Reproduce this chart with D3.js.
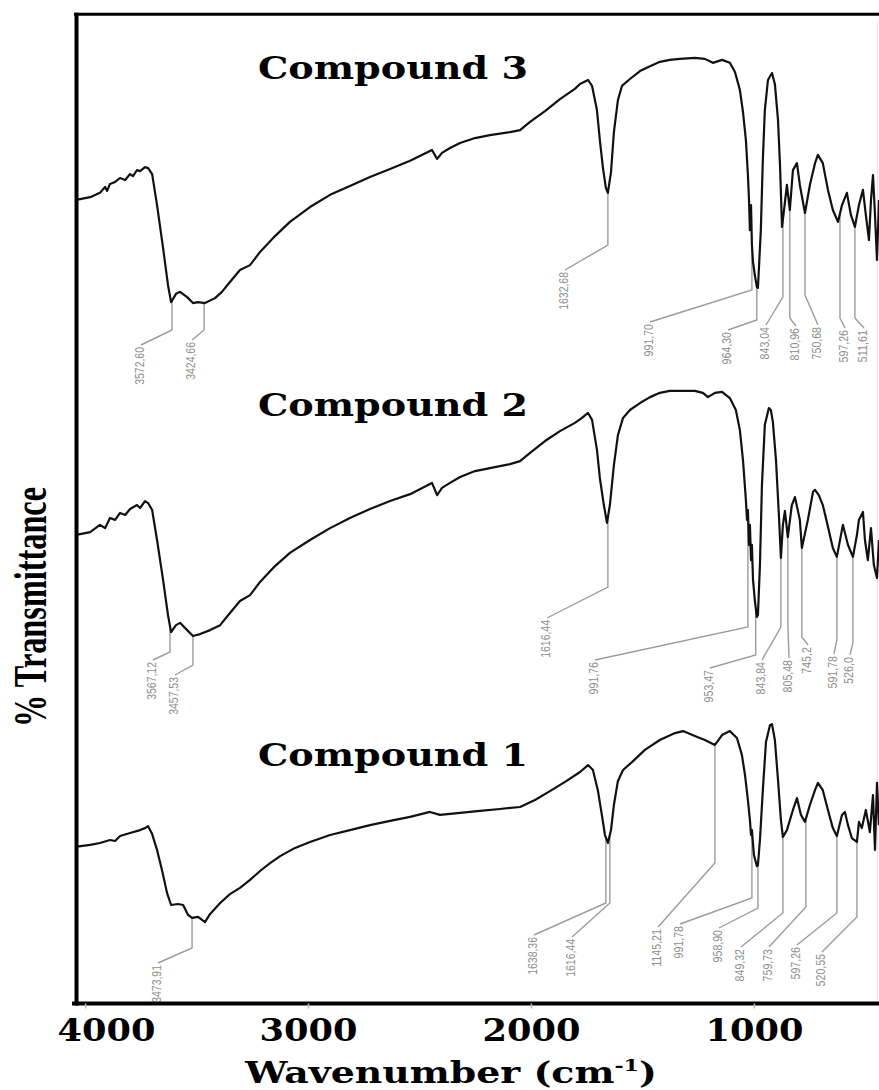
<!DOCTYPE html>
<html><head><meta charset="utf-8">
<script src="https://cdn.jsdelivr.net/npm/d3@7/dist/d3.min.js"></script>
<style>html,body{margin:0;padding:0;background:#fff;}svg{display:block;}</style>
</head><body>
<svg id="chart" width="879" height="1090"></svg>
<script>
// ---------- DATA ----------
const xTicks = [4000, 3000, 2000, 1000];
const compoundNames = ["Compound 3", "Compound 2", "Compound 1"];
const xTitle = "Wavenumber (cm";
const yTitle = "% Transmittance";

// Compound 3 spectrum (wavenumber cm-1, % transmittance within its panel)
const c3Wn = [4045,3977,3933,3910,3901,3888,3865,3843,3820,3798,3785,3767,3753,3731,3717,3699,3677,3650,3628,3614,3592,3574,3542,3516,3493,3462,3417,3386,3350,3305,3260,3215,3148,3081,2991,2901,2812,2722,2632,2542,2453,2444,2421,2399,2363,2318,2251,2184,2094,2049,2004,1937,1870,1803,1780,1744,1726,1704,1691,1677,1664,1655,1641,1628,1610,1592,1556,1511,1466,1422,1377,1332,1265,1220,1184,1143,1108,1085,1063,1049,1036,1027,1022,1018,1013,1009,1004,996,987,982,969,960,951,937,919,906,892,883,874,865,852,839,825,807,794,771,749,726,713,691,668,646,623,605,583,565,547,529,511,498,484,475,466,457,448,439];
const c3T = [43.6,44.5,45.8,47.6,46.4,48.5,49.1,50.3,49.7,51.5,50.9,52.7,52.4,53.6,53.3,51.5,42.1,29.1,17.9,12.7,15.2,15.8,14.2,12.4,12.7,12.4,13.9,15.8,18.8,22.4,23.9,27.9,32.7,37.0,41.5,45.2,47.9,50.6,53.0,55.5,58.5,58.8,56.1,57.9,59.4,60.9,62.4,63.3,64.2,64.8,67.3,70.6,74.2,77.3,78.8,80.0,78.2,70.9,61.8,53.3,47.3,45.8,52.1,64.2,73.9,78.2,80.3,82.7,84.2,85.5,86.1,86.4,86.7,86.4,85.2,86.1,85.2,82.4,77.0,70.3,61.8,51.2,43.6,34.5,42.1,30.0,24.8,20.9,17.3,17.0,34.5,55.8,70.9,80.0,82.1,78.8,67.9,54.2,35.5,40.6,48.2,40.6,52.7,54.8,48.2,39.7,48.2,54.8,57.3,54.8,46.7,40.6,37.0,42.1,45.8,39.1,35.5,42.1,46.7,39.1,31.5,43.6,51.2,39.1,25.5,43.6];
const c3PeakWn = [3610,3466,1655,1009,987,870,839,771,614,547];
const c3PeakLabels = ["3572,60","3424,66","1632,68","991,70","964,30","843,04","810,96","750,68","597,26","511,61"];

// Compound 2 spectrum
const c2Wn = [4045,3977,3933,3910,3888,3865,3843,3820,3798,3767,3753,3731,3717,3699,3677,3650,3628,3614,3592,3574,3542,3516,3484,3439,3394,3350,3305,3260,3215,3148,3081,2991,2901,2812,2722,2632,2542,2453,2444,2421,2399,2363,2318,2251,2184,2094,2049,2004,1937,1870,1803,1771,1744,1726,1704,1691,1673,1659,1646,1628,1610,1587,1556,1511,1466,1422,1377,1332,1265,1229,1206,1175,1143,1108,1081,1063,1049,1036,1031,1027,1022,1018,1013,1009,1004,996,987,982,973,964,951,933,924,915,901,888,879,870,861,848,830,816,794,785,758,735,726,709,691,673,646,628,601,578,556,538,529,511,502,489,475,462,448,439];
const c2T = [42.1,43.0,45.2,44.2,47.3,46.7,48.8,48.2,50.0,51.2,50.3,52.4,51.8,49.7,40.6,28.5,17.9,12.7,14.8,15.5,13.3,11.5,12.1,13.3,14.8,18.5,22.1,23.9,27.9,32.7,36.7,40.6,44.2,47.3,50.0,52.4,54.5,57.6,57.9,54.2,56.4,57.9,59.7,61.5,62.4,63.6,64.5,67.0,70.6,73.6,76.1,77.6,79.1,77.0,67.9,59.4,51.2,45.8,51.2,63.3,72.4,77.6,80.0,82.1,83.9,85.2,85.8,85.8,85.8,85.2,83.9,85.2,85.5,83.6,80.0,73.9,64.8,52.7,46.7,49.7,39.1,45.2,34.5,39.1,28.5,22.4,17.3,17.9,33.0,57.3,75.5,80.6,80.0,76.4,64.8,48.2,35.2,45.2,49.4,41.5,51.2,53.6,46.7,38.2,46.7,55.2,55.8,54.2,51.2,46.1,38.2,35.5,45.2,39.1,35.5,42.1,46.7,49.1,40.6,34.5,44.2,33.0,29.1,40.6];
const c2PeakWn = [3619,3516,1655,1027,992,879,848,785,628,556];
const c2PeakLabels = ["3567,12","3457,53","1616,44","991,76","953,47","843,84","805,48","745,2","591,78","526,0"];

// Compound 1 spectrum
const c1Wn = [4045,3977,3933,3888,3865,3843,3798,3753,3731,3717,3699,3677,3655,3632,3614,3583,3560,3538,3520,3493,3462,3439,3394,3350,3305,3260,3215,3170,3125,3058,2991,2901,2812,2722,2632,2542,2453,2408,2318,2229,2139,2049,1982,1915,1847,1780,1744,1722,1700,1682,1668,1655,1641,1628,1610,1587,1547,1489,1422,1354,1318,1265,1220,1175,1143,1108,1076,1054,1040,1027,1018,1013,1009,1000,987,982,973,960,946,928,919,906,892,879,870,852,825,807,789,771,749,726,713,691,668,646,628,605,592,578,561,538,529,516,498,480,466,457,448,439];
const c1T = [47.6,48.2,48.8,49.7,49.4,50.9,51.8,52.7,53.3,53.9,51.5,46.7,40.6,33.6,30.0,30.3,30.0,27.0,26.1,26.4,24.8,27.3,30.6,33.3,35.2,37.6,40.3,42.7,44.8,47.3,49.1,51.2,52.7,54.2,55.5,56.7,58.2,57.3,57.9,58.5,59.1,59.7,61.8,64.5,67.3,70.3,72.4,70.9,64.8,57.3,51.2,48.8,52.7,60.3,67.6,70.9,73.3,77.0,80.0,82.1,82.7,81.2,80.0,78.5,81.5,82.7,80.6,75.5,69.4,61.8,55.8,51.2,52.7,45.2,41.8,42.1,49.7,64.8,79.4,84.5,84.8,80.0,67.9,55.8,50.6,52.7,58.8,62.4,57.3,55.2,60.3,64.8,67.0,64.8,58.8,53.3,50.9,57.3,58.2,54.2,50.3,49.1,55.2,53.3,58.8,52.1,63.3,46.7,67.0,54.2];
const c1PeakWn = [3520,1664,1646,1175,1009,982,870,767,628,538];
const c1PeakLabels = ["3473,91","1638,36","1616,44","1145,21","991,78","958,90","849,32","759,73","597,26","520,55"];

// ---------- LAYOUT (pixels) ----------
// leader line: [elbow y, label end x, label end y]
const c3Leader = [[330,141,345],[330,192,340],[245,565,270],[290,650,322],[320,728,330],[297,766,325],[318,796,326],[295,818,325],[318,845,328],[318,864,328]];
const c2Leader = [[652,153,660],[665,175,675],[587,547,618],[627,595,660],[655,710,668],[627,762,660],[623,789,658],[637,808,645],[640,834,654],[643,850,655]];
const c1Leader = [[948,158,963],[903,534,935],[903,572,937],[863,658,927],[898,680,924],[908,719,928],[913,741,947],[907,769,947],[913,797,945],[917,822,952]];

const svg = d3.select("#chart");
const x = d3.scaleLinear().domain([4045, 439]).range([75, 879]);

const panels = [
  {name: compoundNames[0], wn: c3Wn, t: c3T, peaks: c3PeakWn, labels: c3PeakLabels, lead: c3Leader, top: 14, bottom: 344, titleY: 79},
  {name: compoundNames[1], wn: c2Wn, t: c2T, peaks: c2PeakWn, labels: c2PeakLabels, lead: c2Leader, top: 344, bottom: 674, titleY: 416},
  {name: compoundNames[2], wn: c1Wn, t: c1T, peaks: c1PeakWn, labels: c1PeakLabels, lead: c1Leader, top: 674, bottom: 1004, titleY: 766}
];

function interp(wn, t, w) {
  for (let i = 0; i < wn.length - 1; i++) {
    if (wn[i] >= w && wn[i+1] <= w) {
      const f = (wn[i] - w) / (wn[i] - wn[i+1]);
      return t[i] + f * (t[i+1] - t[i]);
    }
  }
  return t[t.length - 1];
}

// faint right border of the original image
svg.append("line").attr("x1", 877.5).attr("x2", 877.5).attr("y1", 22).attr("y2", 1000)
  .attr("stroke", "#e4e4e4").attr("stroke-width", 1);

panels.forEach(p => {
  const y = d3.scaleLinear().domain([0, 100]).range([p.bottom, p.top]);
  const g = svg.append("g");
  // peak leaders
  p.peaks.forEach((w, i) => {
    const px = x(w), py = y(interp(p.wn, p.t, w));
    const L = p.lead[i];
    g.append("polyline")
      .attr("points", `${px},${py} ${px},${L[0]} ${L[1]},${L[2]}`)
      .attr("fill", "none").attr("stroke", "#9c9c9c").attr("stroke-width", 1.4);
    g.append("text")
      .attr("transform", `translate(${L[1]},${L[2] + 2}) rotate(-90)`)
      .attr("text-anchor", "end").attr("dominant-baseline", "middle")
      .attr("font-family", "'Liberation Sans Narrow','Arial Narrow','Liberation Sans',sans-serif")
      .attr("font-size", 13).attr("fill", "#8e8e8e")
      .attr("textLength", p.labels[i].length * 5.4).attr("lengthAdjust", "spacingAndGlyphs")
      .text(p.labels[i]);
  });
  // spectrum
  const line = d3.line().x(d => x(d[0])).y(d => y(d[1]));
  g.append("path").datum(p.wn.map((w, i) => [w, p.t[i]]))
    .attr("d", line).attr("fill", "none").attr("stroke", "#111")
    .attr("stroke-width", 2.2).attr("stroke-linejoin", "round");
  // title
  g.append("text").attr("x", 258).attr("y", p.titleY)
    .attr("font-family", "'DejaVu Serif',serif").attr("font-weight", "bold")
    .attr("font-size", 31).attr("fill", "#000")
    .attr("textLength", 270).attr("lengthAdjust", "spacingAndGlyphs")
    .text(p.name);
});

// frame
svg.append("line").attr("x1", 74).attr("x2", 879).attr("y1", 14.3).attr("y2", 14.3)
  .attr("stroke", "#000").attr("stroke-width", 3);
svg.append("line").attr("x1", 76.5).attr("x2", 76.5).attr("y1", 12.8).attr("y2", 1005.5)
  .attr("stroke", "#000").attr("stroke-width", 4);

// x axis
const xAxis = svg.append("g").attr("transform", "translate(0,1003.5)")
  .call(d3.axisBottom(x).tickValues(xTicks).tickSize(5).tickSizeOuter(0).tickFormat(d3.format("d")));
xAxis.select(".domain").attr("stroke", "#000").attr("stroke-width", 4)
  .attr("d", "M72,0H879");
xAxis.selectAll(".tick line").attr("stroke", "#bbb").attr("stroke-width", 1.5);
xAxis.selectAll(".tick text")
  .attr("y", 37).attr("dy", 0)
  .attr("font-family", "'DejaVu Serif',serif").attr("font-weight", "bold")
  .attr("font-size", 31).attr("fill", "#000")
  .attr("textLength", 98).attr("lengthAdjust", "spacingAndGlyphs")
  .attr("dx", d => d === 4000 ? 21 : 0);

// x title
const xt = svg.append("text").attr("x", 245).attr("y", 1083)
  .attr("font-family", "'DejaVu Serif',serif").attr("font-weight", "bold")
  .attr("font-size", 29).attr("fill", "#000")
  .attr("textLength", 412).attr("lengthAdjust", "spacingAndGlyphs");
xt.append("tspan").text(xTitle);
xt.append("tspan").attr("font-size", 17).attr("dy", -12).text("-1");
xt.append("tspan").attr("dy", 12).text(")");

// y title
svg.append("text").attr("transform", "translate(46,607) rotate(-90)")
  .attr("text-anchor", "middle")
  .attr("font-family", "'Liberation Serif','Times New Roman',serif").attr("font-weight", "bold")
  .attr("font-size", 46).attr("fill", "#000")
  .attr("textLength", 240).attr("lengthAdjust", "spacingAndGlyphs")
  .text(yTitle);
</script>
</body></html>
